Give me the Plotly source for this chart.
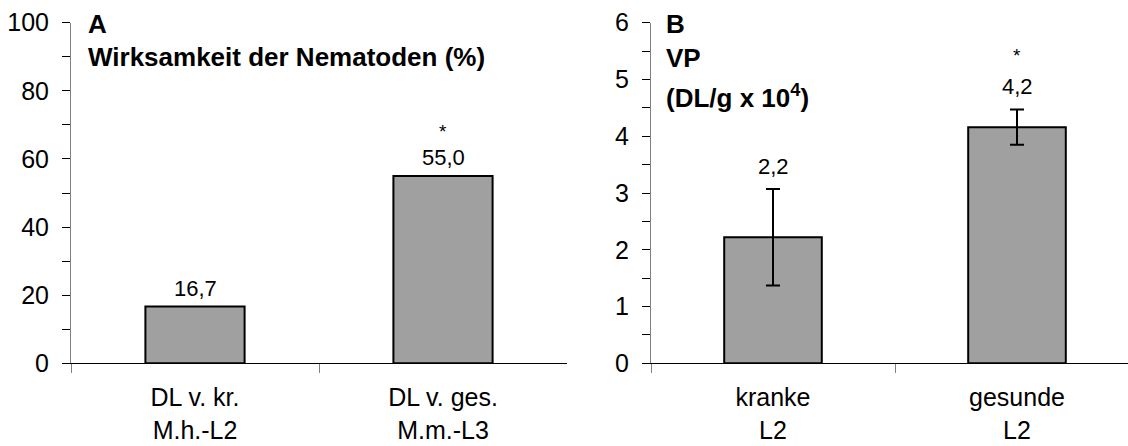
import plotly.graph_objects as go

# ---- data ----
cats_a = ["DL v. kr.<br>M.h.-L2", "DL v. ges.<br>M.m.-L3"]
vals_a = [16.7, 55.0]
labels_a = ["16,7", "55,0"]
sig_a = ["", "*"]

cats_b = ["kranke<br>L2", "gesunde<br>L2"]
vals_b = [2.22, 4.16]
err_b = [0.85, 0.31]
labels_b = ["2,2", "4,2"]
sig_b = ["", "*"]

W, H = 1128, 446
FONT = "Liberation Sans, Arial, sans-serif"
BAR = "#a0a0a0"

fig = go.Figure()
fig.add_trace(go.Bar(x=cats_a, y=vals_a, width=0.4, marker=dict(color=BAR, line=dict(color="black", width=2)),
                     xaxis="x", yaxis="y", showlegend=False, hoverinfo="skip"))
fig.add_trace(go.Bar(x=cats_b, y=vals_b, width=0.4, marker=dict(color=BAR, line=dict(color="black", width=2)),
                     error_y=dict(type="data", array=err_b, visible=True, color="black", thickness=2, width=7),
                     xaxis="x2", yaxis="y2", showlegend=False, hoverinfo="skip"))

ybot = 1 - 363.3 / H
ytop = 1 - 22.7 / H

xax = dict(type="category", tickson="boundaries", ticks="outside", ticklen=9, tickcolor="#808080",
           showline=True, linecolor="black", linewidth=1.3, showgrid=False, zeroline=False,
           tickfont=dict(family=FONT, size=25, color="black"), automargin=False, ticklabelstandoff=12)
yax = dict(ticks="outside", ticklen=8, tickcolor="black", tickwidth=1, showline=True, linecolor="#808080",
           linewidth=1, showgrid=False, zeroline=False, tickfont=dict(family=FONT, size=25, color="black"),
           domain=[ybot, ytop], ticklabelstandoff=8, automargin=False)

fig.update_layout(
    width=W, height=H, margin=dict(l=0, r=0, t=0, b=0),
    paper_bgcolor="white", plot_bgcolor="white",
    xaxis=dict(xax, domain=[71 / W, 567 / W], range=[-0.5, 1.5], anchor="y"),
    yaxis=dict(yax, range=[0, 100], dtick=20, anchor="x",
               minor=dict(dtick=10, ticks="outside", ticklen=8, tickcolor="black")),
    xaxis2=dict(xax, domain=[651 / W, 1.0], range=[-0.5, 1.5 - 11 / 244], anchor="y2"),
    yaxis2=dict(yax, range=[0, 6], dtick=1, anchor="x2",
                minor=dict(dtick=0.5, ticks="outside", ticklen=8, tickcolor="black")),
    bargap=0.6,
)

ann = []
for c, v, l, s in zip(cats_a, vals_a, labels_a, sig_a):
    ann.append(dict(x=c, y=v, xref="x", yref="y", text=l, showarrow=False, yanchor="middle", yshift=18,
                    font=dict(family=FONT, size=22, color="black")))
    if s:
        ann.append(dict(x=c, y=v, xref="x", yref="y", text=s, showarrow=False, yanchor="middle", yshift=44,
                        font=dict(family=FONT, size=19, color="black")))
for c, v, e, l, s in zip(cats_b, vals_b, err_b, labels_b, sig_b):
    ann.append(dict(x=c, y=v + e, xref="x2", yref="y2", text=l, showarrow=False, yanchor="middle", yshift=23,
                    font=dict(family=FONT, size=22, color="black")))
    if s:
        ann.append(dict(x=c, y=v + e, xref="x2", yref="y2", text=s, showarrow=False, yanchor="middle", yshift=54,
                        font=dict(family=FONT, size=19, color="black")))

titles = [("<b>A</b>", 86, 24), ("<b>Wirksamkeit der Nematoden (%)</b>", 86, 57),
          ("<b>B</b>", 664, 24), ("<b>VP</b>", 664, 58), ("<b>(DL/g x 10<sup>4</sup>)</b>", 664, 97)]
for t, px, py in titles:
    ann.append(dict(x=px / W, y=1 - py / H, xref="paper", yref="paper", text=t, showarrow=False,
                    xanchor="left", yanchor="middle", font=dict(family=FONT, size=26, color="black")))

fig.update_layout(annotations=ann)
fig.write_html("out.html")
